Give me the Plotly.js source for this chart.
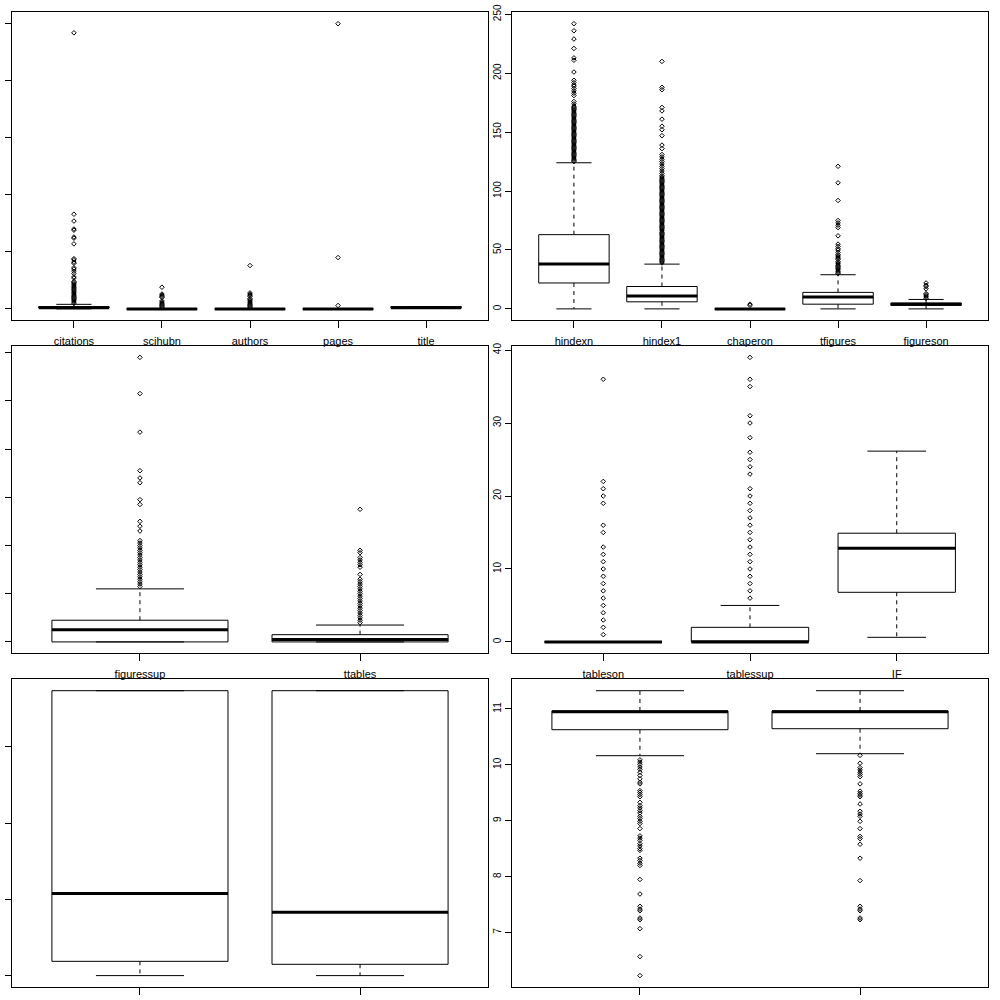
<!DOCTYPE html>
<html>
<head>
<meta charset="utf-8">
<script src="https://cdn.plot.ly/plotly-3.0.1.min.js"></script>
<style>
  body { margin: 0; background: #fff; }
  #myDiv { width: 1000px; height: 1000px; }
</style>
</head>
<body>
<div id="myDiv"></div>
<script>
// Panel 1 (top left)
const names1 = ['citations', 'scihubn', 'authors', 'pages', 'title'];
const lo1 = [0, 0, 0, 0, 1];
const q1_1 = [1, 0, 0, 0, 1];
const med1 = [1, 0, 0, 0, 1];
const q3_1 = [2, 0, 0, 0, 2];
const hi1 = [4, 0, 0, 0, 2];
const out1 = [
  [242, 83, 77, 70, 69, 63, 62, 57, 44, 43, 41, 40, 36, 35, 33, 31, 28, 27, 24, 23, 22, 21, 20, 19, 18, 17, 16, 15, 14, 13, 12, 11, 10, 9, 8, 7, 6, 5],
  [19, 13, 12, 11, 10, 7, 6, 5, 4, 3, 2, 1],
  [38, 14, 13, 12, 11, 9, 8, 7, 6, 5, 4, 3, 2, 1],
  [250, 45, 3],
  [],
];

// Panel 2 (top right)
const names2 = ['hindexn', 'hindex1', 'chaperon', 'tfigures', 'figureson'];
const lo2 = [0, 0, 0, 0, 0];
const q1_2 = [22, 6, 0, 4, 3];
const med2 = [38, 11, 0, 10, 4];
const q3_2 = [63, 19, 0, 14, 5];
const hi2 = [124, 38, 0, 29, 8];
const out2 = [
  [242, 236, 229, 221, 213, 211, 201, 194, 192, 190, 189, 187, 185, 183, 181, 176, 174,
   172, 171, 170, 169, 168, 167, 166, 165, 164, 163, 162, 161, 160, 159, 158, 157, 156, 155, 154, 153, 152, 151, 150,
   149, 148, 147, 146, 145, 144, 143, 142, 141, 140, 139, 138, 137, 136, 135, 134, 133, 132, 131, 130,
   129, 128, 127, 126, 125],
  [210, 188, 186, 171, 168, 161, 155, 152, 147, 139, 136, 131, 129, 127, 125, 123, 121, 119, 117, 115,
   113, 112, 111, 110, 109, 108, 107, 106, 105, 104, 103, 102, 101, 100, 99, 98, 97, 96, 95, 94, 93, 92, 91, 90,
   89, 88, 87, 86, 85, 84, 83, 82, 81, 80, 79, 78, 77, 76, 75, 74, 73, 72, 71, 70, 69, 68, 67, 66, 65,
   64, 63, 62, 61, 60, 59, 58, 57, 56, 55, 54, 53, 52, 51, 50, 49, 48, 47, 46, 45, 44, 43, 42, 41, 40, 39],
  [4, 3],
  [121, 107, 92, 75, 73, 71, 69, 62, 55, 53, 51, 50, 48, 46, 45, 44, 43, 42, 40, 39, 38, 37, 36, 35, 34, 33, 32, 31, 30],
  [22, 20, 19, 17, 13, 12, 11, 10, 9],
];

// Panel 3 (middle left)
const names3 = ['figuressup', 'ttables'];
const lo3 = [0, 0];
const q1_3 = [0, 0];
const med3 = [5, 1];
const q3_3 = [9, 3];
const hi3 = [22, 7];
const out3 = [
  [118, 103, 87, 71, 68, 66, 59, 57, 50, 48, 46, 42, 41, 40, 39, 38, 37, 36, 35, 34, 33, 32, 31, 30, 29, 28, 27, 26, 25, 24, 23],
  [55, 38, 37, 35, 34, 33, 32, 31, 28, 26, 25, 24, 23, 22, 21, 20, 19, 18, 17, 16, 15, 14, 13, 12, 11, 10, 9, 8],
];

// Panel 4 (middle right)
const names4 = ['tableson', 'tablessup', 'IF'];
const lo4 = [0, 0, 0.63];
const q1_4 = [0, 0, 6.8];
const med4 = [0, 0, 12.84];
const q3_4 = [0, 2, 14.9];
const hi4 = [0, 5, 26.15];
const out4 = [
  [36, 22, 21, 20, 19, 16, 15, 13, 12, 11, 10, 9, 8, 7, 6, 5, 4, 3, 2, 1],
  [39, 36, 35, 31, 30, 28, 26, 25, 24, 23, 21, 20, 19, 18, 17, 16, 15, 14, 13, 12, 11, 10, 9, 8, 7, 6],
  [],
];

// Panel 5 (bottom left) - its labels fall below the page
const names5 = ['', ''];
const lo5 = [0, 0];
const q1_5 = [0.187, 0.148];
const med5 = [1.077, 0.829];
const q3_5 = [3.734, 3.734];
const hi5 = [3.734, 3.734];
const out5 = [[], []];

// Panel 6 (bottom right)
const names6 = ['', ''];
const lo6 = [10.164, 10.2];
const q1_6 = [10.629, 10.647];
const med6 = [10.95, 10.95];
const q3_6 = [10.965, 10.965];
const hi6 = [11.327, 11.327];
const out6 = [
  [10.09, 10.05, 10.01, 9.96, 9.92, 9.87, 9.81, 9.75, 9.69, 9.66, 9.54, 9.51, 9.47, 9.43, 9.33, 9.27, 9.23, 9.18,
   9.14, 9.08, 9.04, 8.99, 8.95, 8.86, 8.73, 8.69, 8.65, 8.59, 8.55, 8.5, 8.47, 8.33, 8.29, 8.24, 8.2, 7.95,
   7.69, 7.47, 7.42, 7.39, 7.26, 7.23, 7.07, 6.57, 6.23],
  [10.17, 10.03, 9.95, 9.91, 9.87, 9.83, 9.79, 9.66, 9.53, 9.49, 9.46, 9.43, 9.3, 9.17, 9.12, 9.08, 8.99, 8.86,
   8.72, 8.68, 8.58, 8.33, 7.93, 7.47, 7.42, 7.39, 7.26, 7.23],
];

const panels = [
  { names: names1, lo: lo1, q1: q1_1, med: med1, q3: q3_1, hi: hi1, out: out1, dtick: 50 },
  { names: names2, lo: lo2, q1: q1_2, med: med2, q3: q3_2, hi: hi2, out: out2, dtick: 50 },
  { names: names3, lo: lo3, q1: q1_3, med: med3, q3: q3_3, hi: hi3, out: out3, dtick: 20 },
  { names: names4, lo: lo4, q1: q1_4, med: med4, q3: q3_4, hi: hi4, out: out4, dtick: 10 },
  { names: names5, lo: lo5, q1: q1_5, med: med5, q3: q3_5, hi: hi5, out: out5, dtick: 1 },
  { names: names6, lo: lo6, q1: q1_6, med: med6, q3: q3_6, hi: hi6, out: out6, dtick: 1 },
];

// page layout (R mfrow = c(3, 2))
const xDomains = [[0.0123, 0.4877], [0.5123, 0.9877]];
const yDomains = [[0.6797, 0.9877], [0.3467, 0.654], [0.013, 0.3207]];
const font = { family: 'Liberation Sans, Arial, sans-serif', size: 11, color: '#000' };

const data = [];
const layout = {
  width: 1000,
  height: 1000,
  margin: { l: 0, r: 0, t: 0, b: 0 },
  paper_bgcolor: '#fff',
  plot_bgcolor: '#fff',
  showlegend: false,
  font: font,
};

panels.forEach((p, i) => {
  const k = i + 1;
  const xa = 'x' + k;
  const ya = 'y' + k;
  const n = p.names.length;
  const pos = p.names.map((_, j) => j + 1);

  // box body (whiskers drawn separately, dashed like R)
  data.push({
    type: 'box', xaxis: xa, yaxis: ya,
    x: pos, q1: p.q1, median: p.med, q3: p.q3,
    lowerfence: p.q1, upperfence: p.q3,
    width: 0.8, whiskerwidth: 0, boxpoints: false,
    fillcolor: '#fff', line: { color: '#000', width: 1 },
    hoverinfo: 'skip',
  });

  // dashed whiskers
  const wx = [], wy = [];
  pos.forEach((x, j) => {
    wx.push(x, x, null, x, x, null);
    wy.push(p.q3[j], p.hi[j], null, p.q1[j], p.lo[j], null);
  });
  data.push({
    type: 'scatter', mode: 'lines', xaxis: xa, yaxis: ya, x: wx, y: wy,
    line: { color: '#000', width: 1, dash: '4px,4px' }, hoverinfo: 'skip',
  });

  // staples
  const sx = [], sy = [];
  pos.forEach((x, j) => {
    sx.push(x - 0.2, x + 0.2, null, x - 0.2, x + 0.2, null);
    sy.push(p.hi[j], p.hi[j], null, p.lo[j], p.lo[j], null);
  });
  data.push({
    type: 'scatter', mode: 'lines', xaxis: xa, yaxis: ya, x: sx, y: sy,
    line: { color: '#000', width: 1 }, hoverinfo: 'skip',
  });

  // thick medians
  const mx = [], my = [];
  pos.forEach((x, j) => {
    mx.push(x - 0.4, x + 0.4, null);
    my.push(p.med[j], p.med[j], null);
  });
  data.push({
    type: 'scatter', mode: 'lines', xaxis: xa, yaxis: ya, x: mx, y: my,
    line: { color: '#000', width: 3 }, hoverinfo: 'skip',
  });

  // outliers
  const ox = [], oy = [];
  p.out.forEach((vals, j) => vals.forEach(v => { ox.push(pos[j]); oy.push(v); }));
  data.push({
    type: 'scatter', mode: 'markers', xaxis: xa, yaxis: ya, x: ox, y: oy,
    marker: { symbol: 'diamond-open', size: 3.5, color: '#000', line: { width: 1, color: '#000' } },
    hoverinfo: 'skip',
  });

  // R style axis ranges: data range + 4%
  const all = p.lo.concat(p.hi, p.out.flat());
  const ymin = Math.min(...all), ymax = Math.max(...all);
  const span = ymax - ymin;

  layout['xaxis' + (k === 1 ? '' : k)] = {
    domain: xDomains[i % 2], anchor: ya,
    range: [0.5 - 0.04 * n, n + 0.5 + 0.04 * n],
    tickvals: pos, ticktext: p.names,
    ticks: 'outside', ticklen: 7, tickcolor: '#000', tickwidth: 1,
    showline: true, mirror: true, linecolor: '#000', linewidth: 1,
    showgrid: false, zeroline: false, automargin: false,
    tickfont: font, ticklabelstandoff: 3,
  };
  layout['yaxis' + (k === 1 ? '' : k)] = {
    domain: yDomains[Math.floor(i / 2)], anchor: xa,
    range: [ymin - 0.04 * span, ymax + 0.04 * span],
    tick0: 0, dtick: p.dtick, tickangle: -90,
    ticks: 'outside', ticklen: 6, tickcolor: '#000', tickwidth: 1,
    // left column labels sit beyond the page edge in the original
    showticklabels: i % 2 === 1,
    showline: true, mirror: true, linecolor: '#000', linewidth: 1,
    showgrid: false, zeroline: false, automargin: false,
    tickfont: { family: font.family, size: 10, color: '#000' },
  };
});

Plotly.newPlot('myDiv', data, layout, { staticPlot: true, displayModeBar: false });
</script>
</body>
</html>
